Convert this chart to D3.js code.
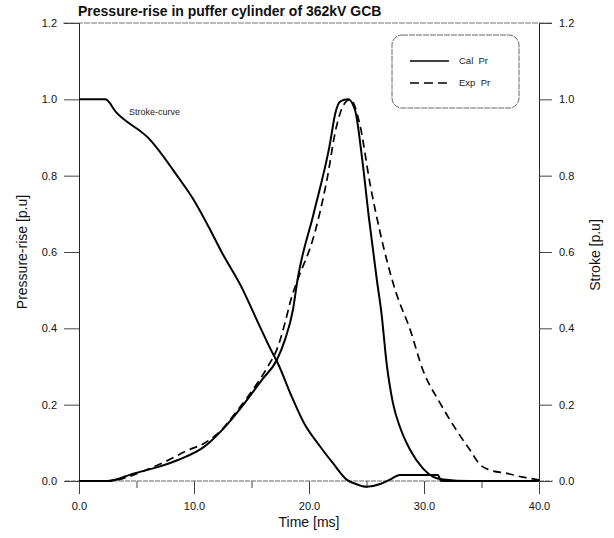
<!DOCTYPE html>
<html>
<head>
<meta charset="utf-8">
<script src="https://cdn.jsdelivr.net/npm/d3@7"></script>
<style>
  body { margin: 0; background: #fff; }
  svg { display: block; font-family: "Liberation Sans", Arial, sans-serif; }
</style>
</head>
<body>
<div id="app"></div>
<script>
// Stroke curve (right axis)
const strokeTime = [0, 2.3, 3.2, 6.15, 8.6, 9.9, 11.2, 12.4, 14.1, 15.6, 16.7, 17.3, 18.5, 19.6, 20.9, 22.1, 23.3, 24.1, 25.0, 26.2, 27.0, 27.9, 31.2, 31.5, 40];
const strokeValues = [1, 1, 0.967, 0.895, 0.797, 0.74, 0.67, 0.60, 0.51, 0.413, 0.343, 0.308, 0.221, 0.15, 0.093, 0.046, 0.003, -0.008, -0.015, -0.008, 0.003, 0.016, 0.016, 0.0, 0.0];

// Calculated pressure rise
const calTime = [0, 2.5, 4.8, 6.9, 8.6, 10.9, 12.7, 14.4, 15.9, 17.2, 17.9, 18.6, 19.0, 20.4, 21.8, 22.3, 22.7, 23.4, 24.0, 24.6, 25.2, 25.9, 26.3, 26.75, 27.3, 27.9, 28.8, 29.9, 30.8, 31.7, 34, 40];
const calValues = [0, 0, 0.02, 0.037, 0.055, 0.09, 0.142, 0.204, 0.265, 0.317, 0.369, 0.448, 0.527, 0.70, 0.880, 0.965, 0.994, 1.0, 0.972, 0.85, 0.692, 0.527, 0.44, 0.308, 0.204, 0.142, 0.081, 0.033, 0.011, 0.004, 0.0, 0.0];

// Experimental pressure rise
const expTime = [0, 2.5, 5.7, 7.45, 9.5, 10.9, 12.4, 13.8, 15.3, 16.4, 17.3, 17.9, 18.5, 18.9, 20.5, 21.5, 22.4, 23.0, 23.6, 24.4, 25.3, 26.2, 27.5, 28.8, 29.9, 31.4, 32.8, 34.0, 34.9, 35.7, 37.2, 38.6, 40];
const expValues = [0, 0, 0.027, 0.05, 0.081, 0.099, 0.134, 0.186, 0.247, 0.299, 0.352, 0.413, 0.483, 0.518, 0.65, 0.78, 0.93, 0.985, 1.0, 0.937, 0.78, 0.649, 0.5, 0.396, 0.291, 0.204, 0.134, 0.081, 0.042, 0.029, 0.020, 0.010, 0.003];

const xTicks = [0, 10, 20, 30, 40];
const xMinorTicks = [5, 15, 25, 35];
const yTicks = [0, 0.2, 0.4, 0.6, 0.8, 1.0, 1.2];

const width = 614;
const height = 538;
const margin = { top: 23, right: 75, bottom: 57, left: 79 };

const svg = d3.select("#app").append("svg")
  .attr("width", width)
  .attr("height", height);

const x = d3.scaleLinear().domain([0, 40]).range([margin.left, width - margin.right]);
const y = d3.scaleLinear().domain([0, 1.2]).range([height - margin.bottom, margin.top]);
const yRight = d3.scaleLinear().domain([0, 1.2]).range([height - margin.bottom, margin.top]);

// frame: top light line
svg.append("line")
  .attr("x1", margin.left - 16).attr("x2", width - margin.right + 14)
  .attr("y1", y(1.2)).attr("y2", y(1.2))
  .attr("stroke", "#777").attr("stroke-width", 1)
  .attr("stroke-dasharray", "6,1");

// x axis
const xAxis = svg.append("g")
  .attr("transform", `translate(0,${y(0)})`)
  .call(d3.axisBottom(x).tickValues(xTicks).tickSize(13).tickPadding(8)
    .tickFormat(d3.format(".1f")));
xAxis.select(".domain").remove();
xAxis.selectAll(".tick line").attr("stroke", "#444");
xAxis.selectAll("text").style("font-size", "11px").attr("fill", "#111");

svg.append("g")
  .attr("transform", `translate(0,${y(0)})`)
  .call(d3.axisBottom(x).tickValues(xMinorTicks).tickSize(7).tickFormat(""))
  .call((g) => g.select(".domain").remove())
  .selectAll(".tick line").attr("stroke", "#444");

svg.append("line")
  .attr("x1", margin.left - 14).attr("x2", width - margin.right + 14)
  .attr("y1", y(0)).attr("y2", y(0))
  .attr("stroke", "#666").attr("stroke-width", 1)
  .attr("stroke-dasharray", "5,1");

// left axis
const yAxis = svg.append("g")
  .attr("transform", `translate(${margin.left},0)`)
  .call(d3.axisLeft(y).tickValues(yTicks).tickSize(15).tickPadding(7)
    .tickFormat(d3.format(".1f")));
yAxis.select(".domain").attr("stroke", "#222");
yAxis.selectAll(".tick line").attr("stroke", "#444");
yAxis.selectAll("text").style("font-size", "11px").attr("fill", "#111");

// right axis
const yAxisR = svg.append("g")
  .attr("transform", `translate(${width - margin.right},0)`)
  .call(d3.axisRight(yRight).tickValues(yTicks).tickSize(13).tickPadding(7)
    .tickFormat(d3.format(".1f")));
yAxisR.select(".domain").attr("stroke", "#222");
yAxisR.selectAll(".tick line").attr("stroke", "#444");
yAxisR.selectAll("text").style("font-size", "11px").attr("fill", "#111");

// curves
const zip = (t, v) => t.map((d, i) => [d, v[i]]);

const line = d3.line()
  .x((d) => x(d[0]))
  .y((d) => y(d[1]))
  .curve(d3.curveMonotoneX);

const lineRight = d3.line()
  .x((d) => x(d[0]))
  .y((d) => yRight(d[1]))
  .curve(d3.curveMonotoneX);

svg.append("path")
  .datum(zip(strokeTime, strokeValues))
  .attr("d", lineRight)
  .attr("fill", "none")
  .attr("stroke", "#000")
  .attr("stroke-width", 2);

svg.append("path")
  .datum(zip(expTime, expValues))
  .attr("d", line)
  .attr("fill", "none")
  .attr("stroke", "#000")
  .attr("stroke-width", 1.7)
  .attr("stroke-dasharray", "8,5");

svg.append("path")
  .datum(zip(calTime, calValues))
  .attr("d", line)
  .attr("fill", "none")
  .attr("stroke", "#000")
  .attr("stroke-width", 2);

// stroke curve label
svg.append("text")
  .attr("x", 129)
  .attr("y", 115)
  .style("font-size", "9px")
  .attr("fill", "#222")
  .text("Stroke-curve");

// legend
const legend = svg.append("g");
legend.append("rect")
  .attr("x", 392).attr("y", 35)
  .attr("width", 127).attr("height", 73)
  .attr("rx", 10)
  .attr("fill", "none")
  .attr("stroke", "#666")
  .attr("stroke-width", 1)
  .attr("stroke-dasharray", "6,1");

const legendItems = [
  { label: "Cal  Pr", dash: null, yy: 61 },
  { label: "Exp  Pr", dash: "9,5", yy: 83 }
];
legendItems.forEach((d) => {
  legend.append("line")
    .attr("x1", 410).attr("x2", 449)
    .attr("y1", d.yy).attr("y2", d.yy)
    .attr("stroke", "#000").attr("stroke-width", 1.7)
    .attr("stroke-dasharray", d.dash);
  legend.append("text")
    .attr("x", 459).attr("y", d.yy + 3)
    .style("font-size", "9.5px")
    .style("white-space", "pre")
    .attr("fill", "#222")
    .text(d.label);
});

// titles
svg.append("text")
  .attr("x", 78)
  .attr("y", 16)
  .style("font-size", "14px")
  .style("font-weight", "bold")
  .attr("fill", "#111")
  .text("Pressure-rise in puffer cylinder of 362kV GCB");

svg.append("text")
  .attr("x", (margin.left + width - margin.right) / 2)
  .attr("y", 527)
  .attr("text-anchor", "middle")
  .style("font-size", "14px")
  .attr("fill", "#111")
  .text("Time [ms]");

svg.append("text")
  .attr("transform", `translate(27,252) rotate(-90)`)
  .attr("text-anchor", "middle")
  .style("font-size", "14px")
  .attr("fill", "#111")
  .text("Pressure-rise [p.u]");

svg.append("text")
  .attr("transform", `translate(600,255) rotate(-90)`)
  .attr("text-anchor", "middle")
  .style("font-size", "14px")
  .attr("fill", "#111")
  .text("Stroke [p.u]");
</script>
</body>
</html>
